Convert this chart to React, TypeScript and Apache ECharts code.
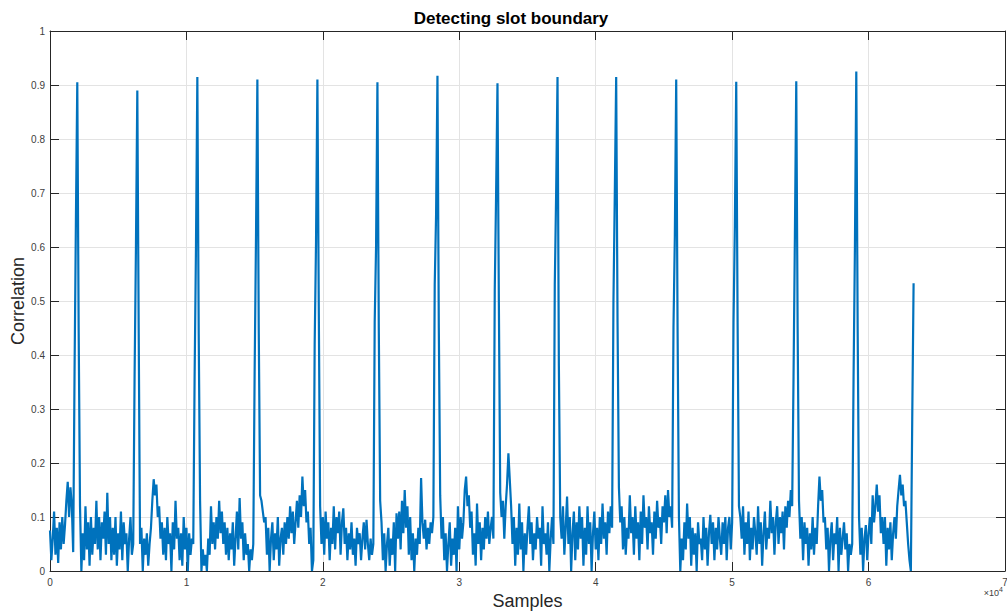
import React, { useEffect, useRef } from "react";
import * as echarts from "echarts";

// Sample spacing of the correlation trace (samples per value)
const sampleStep = 100;

// Correlation values, one every `sampleStep` samples
const slot01 = [0.075, 0.02, 0.06, 0.11, 0.03, 0.08, 0.015, 0.09, 0.04, 0.1, 0.05, 0.085, 0.13, 0.165, 0.1, 0.155, 0.12, 0.035,
  0.37, 0.65, 0.905, 0.45, 0.12, 0.0];
const slot02 = [0.07, 0.02, 0.12, 0.04, 0.09, 0.01, 0.1, 0.03, 0.08, 0.05,
  0.13, 0.04, 0.1, 0.02, 0.09, 0.06, 0.11, 0.03, 0.145, 0.05, 0.1, 0.02,
  0.08, 0.03, 0.1, 0.01, 0.07, 0.04, 0.11, 0.02, 0.09, 0.05, 0.07, 0.0, 0.06, 0.1, 0.03,
  0.05, 0.36, 0.6, 0.89, 0.45, 0.05];
const slot03 = [0.08, 0.0, 0.06, 0.03, 0.07, 0.01, 0.05, 0.08, 0.13,
  0.17, 0.14, 0.16, 0.1, 0.12,
  0.06, 0.09, 0.03, 0.08, 0.02, 0.1, 0.05, 0.07, 0.0, 0.09, 0.04, 0.13, 0.06, 0.08, 0.02, 0.07,
  0.01, 0.1, 0.04, 0.08, 0.0, 0.07, 0.03, 0.06,
  0.05, 0.36, 0.6, 0.915, 0.44, 0.13];
const slot04 = [0.0, 0.04, 0.01, 0.03, 0.0,
  0.06, 0.03, 0.12, 0.05, 0.09, 0.04, 0.1, 0.06, 0.13, 0.07, 0.11, 0.05, 0.09,
  0.03, 0.08, 0.02, 0.07, 0.04, 0.09, 0.01, 0.06, 0.11, 0.04,
  0.135, 0.06, 0.09, 0.02, 0.07,
  0.03, 0.05, 0.0, 0.04, 0.02, 0.05,
  0.37, 0.62, 0.91, 0.45, 0.14];
const slot05 = [0.13, 0.11, 0.09,
  0.1, 0.03, 0.08, 0.0, 0.06, 0.09, 0.02, 0.07, 0.04, 0.1, 0.01, 0.06, 0.08, 0.03, 0.09,
  0.05, 0.1, 0.06, 0.12, 0.07, 0.11, 0.05, 0.09, 0.13, 0.08, 0.14, 0.1, 0.175, 0.12, 0.15,
  0.09, 0.11, 0.05, 0.08, 0.0, 0.02,
  0.42, 0.61, 0.91, 0.49, 0.12];
const slot06 = [0.05, 0.1, 0.03, 0.11, 0.06, 0.09, 0.02, 0.08, 0.05, 0.12, 0.04, 0.1, 0.07, 0.11, 0.03, 0.09, 0.116,
  0.05, 0.08, 0.02, 0.07, 0.04, 0.09, 0.03, 0.06, 0.01, 0.08, 0.05, 0.07, 0.02, 0.06, 0.09, 0.04, 0.095, 0.05, 0.02,
  0.06, 0.03, 0.05, 0.46, 0.6, 0.905, 0.45, 0.13];
const slot07 = [0.09, 0.02, 0.07, 0.0, 0.05, 0.08, 0.01, 0.06, 0.03, 0.09, 0.0, 0.107,
  0.06, 0.11, 0.04, 0.13, 0.07, 0.15, 0.08, 0.12, 0.03, 0.1,
  0.02, 0.07, 0.0, 0.06, 0.03, 0.08, 0.05, 0.172,
  0.09, 0.06, 0.095, 0.04, 0.08, 0.05, 0.09, 0.07,
  0.1, 0.53, 0.66, 0.917, 0.45, 0.14];
const slot08 = [0.06, 0.1, 0.02, 0.07, 0.0, 0.05, 0.09, 0.01, 0.06, 0.03, 0.08, 0.0, 0.12, 0.04,
  0.1, 0.06, 0.09, 0.15, 0.175, 0.12, 0.14, 0.08, 0.11, 0.03, 0.07, 0.01,
  0.125, 0.05, 0.09, 0.02, 0.08, 0.04, 0.1, 0.06, 0.11, 0.05, 0.08, 0.1,
  0.06, 0.52, 0.7, 0.903, 0.5, 0.145];
const slot09 = [0.1, 0.13, 0.06, 0.12,
  0.16, 0.218, 0.17, 0.12,
  0.05, 0.1, 0.01, 0.08, 0.03, 0.125, 0.04, 0.09, 0.0, 0.07,
  0.03, 0.08, 0.12, 0.05, 0.09, 0.02, 0.07, 0.04, 0.1, 0.06, 0.08, 0.01, 0.12, 0.05, 0.07, 0.03, 0.09, 0.0, 0.06, 0.1,
  0.05, 0.53, 0.7, 0.915, 0.38, 0.1];
const slot10 = [0.06, 0.12, 0.03, 0.08, 0.138, 0.05, 0.1, 0.0, 0.07, 0.11, 0.02, 0.09,
  0.04, 0.12, 0.06, 0.1, 0.01, 0.08, 0.03, 0.12, 0.05, 0.09, 0.0, 0.07, 0.11, 0.04, 0.08, 0.02, 0.1, 0.05, 0.125, 0.06, 0.09, 0.03,
  0.11, 0.07, 0.12, 0.08,
  0.5, 0.7, 0.915, 0.46, 0.155];
const slot11 = [0.09, 0.12, 0.04, 0.1, 0.03, 0.08, 0.06,
  0.14, 0.07, 0.1, 0.03, 0.12, 0.06, 0.09, 0.02, 0.11, 0.05, 0.14, 0.08, 0.1, 0.04, 0.12, 0.07, 0.09, 0.03, 0.11, 0.06,
  0.13, 0.08, 0.1, 0.05, 0.12, 0.09, 0.14, 0.07, 0.15, 0.1, 0.12,
  0.08, 0.45, 0.62, 0.91, 0.45, 0.1];
const slot12 = [0.0, 0.06, 0.02, 0.09, 0.04, 0.125, 0.06, 0.1, 0.01, 0.08,
  0.03, 0.07, 0.0, 0.09, 0.05, 0.06, 0.02, 0.1, 0.04, 0.08,
  0.01, 0.07, 0.104, 0.05, 0.09, 0.02, 0.08, 0.04, 0.1, 0.06, 0.03,
  0.09, 0.05, 0.1, 0.02, 0.08, 0.1, 0.04, 0.09,
  0.46, 0.64, 0.906, 0.46, 0.12];
const slot13 = [0.1, 0.06, 0.12, 0.03, 0.09, 0.05, 0.11, 0.02, 0.08, 0.04,
  0.1, 0.07, 0.03, 0.12, 0.05, 0.09, 0.01, 0.07, 0.11, 0.04,
  0.08, 0.06, 0.13, 0.07, 0.1, 0.03, 0.09, 0.12, 0.05, 0.1,
  0.07, 0.11, 0.04, 0.12, 0.08, 0.13, 0.1, 0.15,
  0.12, 0.36, 0.62, 0.907, 0.45, 0.13];
const slot14 = [0.06, 0.1, 0.02, 0.09, 0.05, 0.08, 0.01, 0.07, 0.04, 0.1,
  0.03, 0.08, 0.05, 0.12, 0.175, 0.13, 0.15, 0.09,
  0.1, 0.04, 0.08, 0.0, 0.06, 0.09, 0.02, 0.07, 0.05, 0.1,
  0.0, 0.08, 0.03, 0.06, 0.09, 0.04, 0.07, 0.0, 0.05, 0.03,
  0.05, 0.36, 0.6, 0.925, 0.45, 0.1];
const slot15 = [0.03, 0.08, 0.0, 0.06, 0.085, 0.02, 0.07, 0.1, 0.05, 0.14,
  0.09, 0.12, 0.16, 0.11, 0.14, 0.07, 0.1,
  0.05, 0.1, 0.01, 0.08, 0.04, 0.09, 0.02, 0.07, 0.1, 0.06,
  0.12, 0.15, 0.178, 0.14, 0.16, 0.12, 0.13,
  0.09, 0.05, 0.02,
  0.0, 0.28, 0.533];

const correlation = [
  ...slot01, ...slot02, ...slot03, ...slot04, ...slot05, ...slot06, ...slot07, ...slot08,
  ...slot09, ...slot10, ...slot11, ...slot12, ...slot13, ...slot14, ...slot15,
];

const xTickValues = [0, 1, 2, 3, 4, 5, 6, 7]; // ×10^4
const xScale = 10000;

const FONT = "'Liberation Sans', Arial, Helvetica, sans-serif";
const AXIS_COLOR = "#262626";
const LABEL_COLOR = "#404040";
const GRID_COLOR = "#e3e3e3";
const LINE_COLOR = "#0072BD";

export default function App() {
  const ref = useRef<HTMLDivElement>(null);

  useEffect(() => {
    document.body.style.margin = "0";
    if (!ref.current) return;
    const chart = echarts.init(ref.current, undefined, { renderer: "svg" });

    const xMax = xTickValues[xTickValues.length - 1] * xScale;
    const sharedTick = { inside: true, length: 9, lineStyle: { color: AXIS_COLOR, width: 1 } };

    chart.setOption({
      animation: false,
      backgroundColor: "#ffffff",
      title: {
        text: "Detecting slot boundary",
        left: 506,
        top: 5,
        textAlign: "center",
        textStyle: { fontFamily: FONT, fontSize: 17, fontWeight: "bold", color: "#000" },
      },
      grid: { left: 50, right: 2, top: 31, bottom: 41, containLabel: false, outerBoundsMode: "none" },
      xAxis: [
        {
          type: "value",
          min: 0,
          max: xMax,
          interval: xScale,
          name: "Samples",
          nameLocation: "middle",
          nameGap: 17,
          nameTextStyle: { fontFamily: FONT, fontSize: 18, color: AXIS_COLOR },
          axisLine: { show: true, lineStyle: { color: AXIS_COLOR, width: 1 } },
          axisTick: sharedTick,
          axisLabel: {
            fontFamily: FONT,
            fontSize: 10,
            color: LABEL_COLOR,
            margin: 6,
            formatter: (v: number) => String(Math.round(v / xScale)),
          },
          splitLine: { show: true, lineStyle: { color: GRID_COLOR, width: 1 } },
        },
        {
          type: "value",
          position: "top",
          min: 0,
          max: xMax,
          interval: xScale,
          axisLine: { show: true, onZero: false, lineStyle: { color: AXIS_COLOR, width: 1 } },
          axisTick: sharedTick,
          axisLabel: { show: false },
          splitLine: { show: false },
        },
      ],
      yAxis: [
        {
          type: "value",
          min: 0,
          max: 1,
          interval: 0.1,
          name: "Correlation",
          nameLocation: "middle",
          nameGap: 23,
          nameMoveOverlap: false,
          nameTextStyle: { fontFamily: FONT, fontSize: 18, color: AXIS_COLOR },
          axisLine: { show: true, lineStyle: { color: AXIS_COLOR, width: 1 } },
          axisTick: sharedTick,
          axisLabel: { fontFamily: FONT, fontSize: 10, color: LABEL_COLOR, margin: 5 },
          splitLine: { show: true, lineStyle: { color: GRID_COLOR, width: 1 } },
        },
        {
          type: "value",
          position: "right",
          min: 0,
          max: 1,
          interval: 0.1,
          axisLine: { show: true, onZero: false, lineStyle: { color: AXIS_COLOR, width: 1 } },
          axisTick: sharedTick,
          axisLabel: { show: false },
          splitLine: { show: false },
        },
      ],
      graphic: [
        {
          type: "text",
          right: 4,
          top: 586,
          style: {
            text: "×10{sup|4}",
            fontFamily: FONT,
            fontSize: 9,
            fill: LABEL_COLOR,
            rich: { sup: { fontSize: 7, verticalAlign: "top", padding: [0, 0, 6, 0], fill: LABEL_COLOR } },
          },
        },
      ],
      series: [
        {
          type: "line",
          xAxisIndex: 0,
          yAxisIndex: 0,
          data: correlation.map((v, i) => [i * sampleStep, v]),
          showSymbol: false,
          symbol: "none",
          lineStyle: { color: LINE_COLOR, width: 2.2, join: "miter" },
          itemStyle: { color: LINE_COLOR },
          silent: true,
        },
      ],
    });

    return () => chart.dispose();
  }, []);

  return (
    <div
      ref={ref}
      style={{ position: "fixed", left: 0, top: 0, width: 1007, height: 612, display: "block", background: "#fff" }}
    />
  );
}
